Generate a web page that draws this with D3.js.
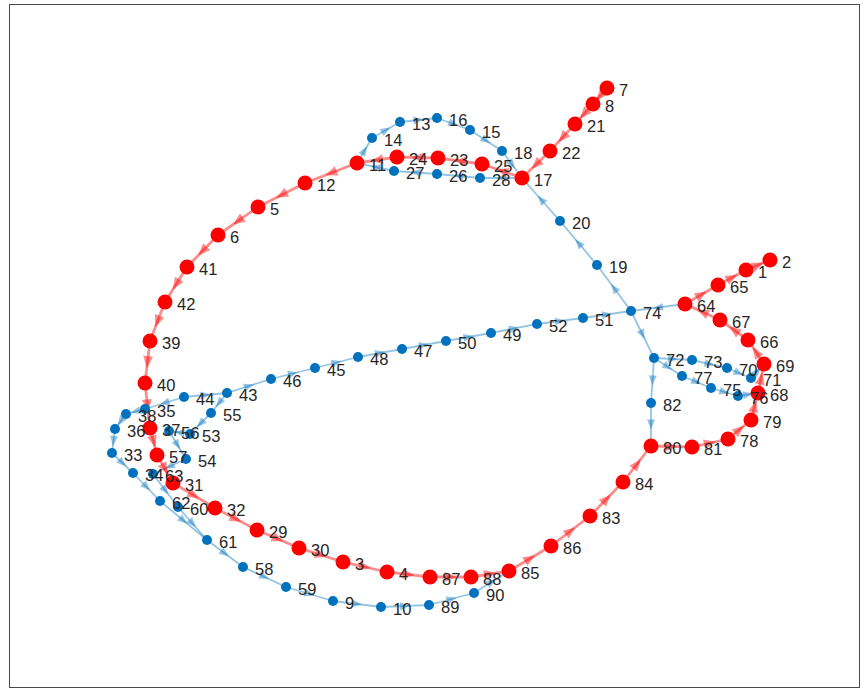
<!DOCTYPE html>
<html>
<head>
<meta charset="utf-8">
<script src="https://cdn.jsdelivr.net/npm/d3@7/dist/d3.min.js"></script>
<style>
  html, body { margin: 0; padding: 0; background: #fff; }
  svg { display: block; }
</style>
</head>
<body>
<svg id="chart" width="863" height="690"></svg>
<script>
// Node coordinates (data units), index i -> node i+1
const nodeX = [737,761,334,378,249,209,598,584,324,372,
               348,296,391,363,461,428,513,493,588,551,
               566,541,429,388,473,428,385,471,248,290,
               164,206,103,124,136,106,141,117,141,136,
               178,156,218,175,306,262,393,349,482,437,
               574,528,181,177,202,160,148,234,277,169,
               198,151,144,676,709,739,711,749,755,718,
               742,645,683,622,702,729,673,719,742,642,
               683,642,581,614,500,542,421,462,420,465];
const nodeY = [418,428,126,116,481,453,600,584,87,81,
               525,505,566,550,558,570,510,537,423,467,
               564,537,530,531,524,514,517,510,158,140,
               205,180,235,215,279,259,260,274,347,305,
               421,386,295,291,320,309,339,331,355,347,
               370,364,254,229,275,257,233,121,101,181,
               148,187,214,384,403,348,368,295,324,320,
               310,330,328,377,300,292,312,249,268,242,
               241,285,172,206,117,142,111,111,83,95];

// Highlighted path (red)
const pathNodes = [7,8,21,22,17,25,23,24,11,12,5,6,41,42,39,40,37,57,31,32,
                   29,30,3,4,87,88,85,86,83,84,80,81,78,79,68,69,66,67,64,65,1,2];

// Other directed edges (blue)
const edgeSource = [11,14,13,16,15,18, 17,28,26,27, 74,19,20, 74,72,82, 64,
                    44,43,46,45,48,47,50,49,52,51,
                    44,35,38,36,33,34,62,61,58,59,9,10,89,90,
                    43,55,53,56,54,63,60,
                    72,73,70,71,72,77,75,76];
const edgeTarget = [14,13,16,15,18,17, 28,26,27,11, 19,20,17, 72,82,80, 74,
                    43,46,45,48,47,50,49,52,51,74,
                    35,38,36,33,34,62,61,58,59,9,10,89,90,85,
                    55,53,56,54,63,60,61,
                    73,70,71,69,77,75,76,68];

const svg = d3.select("#chart");
const x = d3.scaleLinear().domain([0, 850]).range([9, 859]);
const y = d3.scaleLinear().domain([0, 684]).range([688, 4]);

const nodes = nodeX.map((v, i) => ({id: i + 1, x: x(v), y: y(nodeY[i])}));
const byId = id => nodes[id - 1];
const redSet = new Set(pathNodes);

const blueEdges = edgeSource.map((s, i) => ({s: byId(s), t: byId(edgeTarget[i])}));
const redEdges = d3.range(pathNodes.length - 1).map(i => ({s: byId(pathNodes[i]), t: byId(pathNodes[i + 1])}));

// axes box
svg.append("rect")
  .attr("x", 9.5).attr("y", 4.5).attr("width", 850).attr("height", 683)
  .attr("fill", "none").attr("stroke", "#4a4a4a").attr("stroke-width", 1);

function arrow(e, len, hw) {
  const dx = e.t.x - e.s.x, dy = e.t.y - e.s.y;
  const L = Math.hypot(dx, dy) || 1;
  const ux = dx / L, uy = dy / L;
  const mx = (e.s.x + e.t.x) / 2, my = (e.s.y + e.t.y) / 2;
  const tipx = mx + ux * len / 2, tipy = my + uy * len / 2;
  const bx = mx - ux * len / 2, by = my - uy * len / 2;
  return `M${tipx},${tipy}L${bx - uy * hw},${by + ux * hw}L${bx + uy * hw},${by - ux * hw}Z`;
}

const blueCol = "#0072BD", redCol = "#FF0000";
const gE = svg.append("g");
gE.selectAll("line.b").data(blueEdges).join("line")
  .attr("x1", d => d.s.x).attr("y1", d => d.s.y)
  .attr("x2", d => d.t.x).attr("y2", d => d.t.y)
  .attr("stroke", blueCol).attr("stroke-opacity", 0.42).attr("stroke-width", 1.8);
gE.selectAll("path.b").data(blueEdges).join("path")
  .attr("d", d => arrow(d, 10, 4))
  .attr("fill", blueCol).attr("fill-opacity", 0.42);

const gR = svg.append("g");
gR.selectAll("line").data(redEdges).join("line")
  .attr("x1", d => d.s.x).attr("y1", d => d.s.y)
  .attr("x2", d => d.t.x).attr("y2", d => d.t.y)
  .attr("stroke", redCol).attr("stroke-opacity", 0.45).attr("stroke-width", 2.8);
gR.selectAll("path").data(redEdges).join("path")
  .attr("d", d => arrow(d, 12, 5))
  .attr("fill", redCol).attr("fill-opacity", 0.45);

// nodes
svg.append("g").selectAll("circle").data(nodes).join("circle")
  .attr("cx", d => d.x).attr("cy", d => d.y)
  .attr("r", d => redSet.has(d.id) ? 7.5 : 5)
  .attr("fill", d => redSet.has(d.id) ? redCol : blueCol);

// labels
svg.append("g").selectAll("text").data(nodes).join("text")
  .attr("x", d => d.x + 12).attr("y", d => d.y + 2)
  .attr("dominant-baseline", "central")
  .attr("font-family", "'Liberation Sans', Arial, Helvetica, sans-serif")
  .attr("font-size", 16.5)
  .attr("fill", "#262626")
  .text(d => d.id);
</script>
</body>
</html>
